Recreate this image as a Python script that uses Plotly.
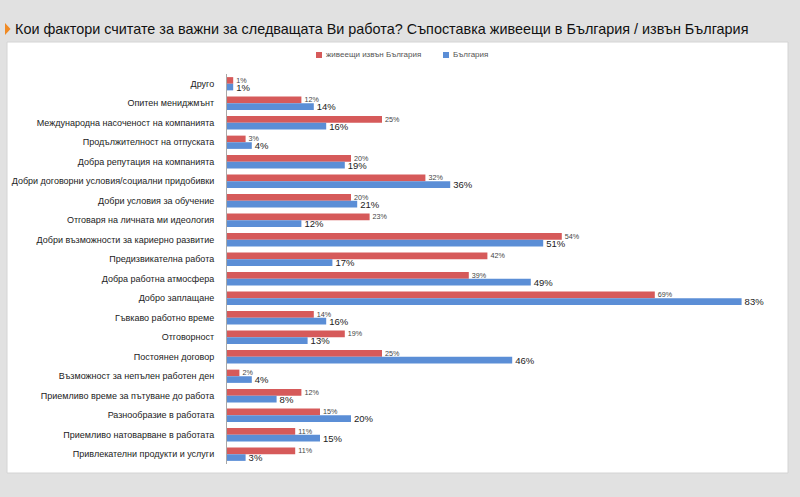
import plotly.graph_objects as go

categories = [
    "Друго",
    "Опитен мениджмънт",
    "Международна насоченост на компанията",
    "Продължителност на отпуската",
    "Добра репутация на компанията",
    "Добри договорни условия/социални придобивки",
    "Добри условия за обучение",
    "Отговаря на личната ми идеология",
    "Добри възможности за кариерно развитие",
    "Предизвикателна работа",
    "Добра работна атмосфера",
    "Добро заплащане",
    "Гъвкаво работно време",
    "Отговорност",
    "Постоянен договор",
    "Възможност за непълен работен ден",
    "Приемливо време за пътуване до работа",
    "Разнообразие в работата",
    "Приемливо натоварване в работата",
    "Привлекателни продукти и услуги",
]
abroad = [1, 12, 25, 3, 20, 32, 20, 23, 54, 42, 39, 69, 14, 19, 25, 2, 12, 15, 11, 11]
bulgaria = [1, 14, 16, 4, 19, 36, 21, 12, 51, 17, 49, 83, 16, 13, 46, 4, 8, 20, 15, 3]
series_names = ["живеещи извън България", "България"]
title_text = "Кои фактори считате за важни за следващата Ви работа? Съпоставка живеещи в България / извън България"

W, H = 800, 497
L, R, T, B = 227, 40, 74, 33
PW, PH = W - L - R, H - T - B
RED, BLUE = "#d65a5a", "#5b8ed6"


def px(x):
    return (x - L) / PW


def py(y):
    return (H - B - y) / PH


FONT = "Liberation Sans, Arial, sans-serif"

fig = go.Figure()
fig.add_trace(go.Bar(
    y=categories, x=abroad, name=series_names[0], orientation="h",
    marker=dict(color=RED, line=dict(width=0)),
    texttemplate="%{x}%", textposition="outside", constraintext="none",
    textfont=dict(size=7.2, color="#444", family=FONT),
    cliponaxis=False, showlegend=False,
))
fig.add_trace(go.Bar(
    y=categories, x=bulgaria, name=series_names[1], orientation="h",
    marker=dict(color=BLUE, line=dict(width=0)),
    texttemplate="%{x}%", textposition="outside", constraintext="none",
    textfont=dict(size=9.5, color="#222", family=FONT),
    cliponaxis=False, showlegend=False,
))

shapes = [
    dict(type="rect", xref="paper", yref="paper", layer="below",
         x0=px(7), x1=px(788), y0=py(473), y1=py(42),
         fillcolor="white", line=dict(color="#d4d4d4", width=1)),
    dict(type="path", xref="paper", yref="paper", layer="above",
         path=f"M {px(5)},{py(23)} L {px(10.5)},{py(29)} L {px(5)},{py(35)} Z",
         fillcolor="#f08a24", line=dict(width=0)),
    # legend swatches
    dict(type="rect", xref="paper", yref="paper", x0=px(316), x1=px(322), y0=py(58), y1=py(52),
         fillcolor=RED, line=dict(width=0)),
    dict(type="rect", xref="paper", yref="paper", x0=px(443), x1=px(449), y0=py(58), y1=py(52),
         fillcolor=BLUE, line=dict(width=0)),
]

annotations = [
    dict(text=title_text, xref="paper", yref="paper", x=px(13), y=py(29),
         xanchor="left", yanchor="middle", showarrow=False,
         font=dict(size=14.4, color="#111", family=FONT)),
    dict(text=series_names[0], xref="paper", yref="paper", x=px(324), y=py(55),
         xanchor="left", yanchor="middle", showarrow=False,
         font=dict(size=8, color="#555", family=FONT)),
    dict(text=series_names[1], xref="paper", yref="paper", x=px(451), y=py(55),
         xanchor="left", yanchor="middle", showarrow=False,
         font=dict(size=8, color="#555", family=FONT)),
]

fig.update_layout(
    width=W, height=H,
    margin=dict(l=L, r=R, t=T, b=B, autoexpand=False),
    paper_bgcolor="#e1e1e1",
    plot_bgcolor="rgba(0,0,0,0)",
    barmode="group", bargap=0.32, bargroupgap=0.0,
    font=dict(family=FONT, color="#222"),
    showlegend=False,
    xaxis=dict(range=[0, PW / 6.2], showticklabels=False, showgrid=False, zeroline=False,
               showline=False, fixedrange=True, automargin=False),
    yaxis=dict(autorange="reversed", showline=True, linecolor="#a8a8a8", linewidth=1,
               ticks="", showgrid=False, tickfont=dict(size=9, color="#222", family=FONT),
               ticklabelstandoff=10, automargin=False),
    shapes=shapes,
    annotations=annotations,
)

fig.write_html("out.html", config={"displayModeBar": False},
               post_script="document.body.style.margin='0';document.body.style.background='#e1e1e1';")
